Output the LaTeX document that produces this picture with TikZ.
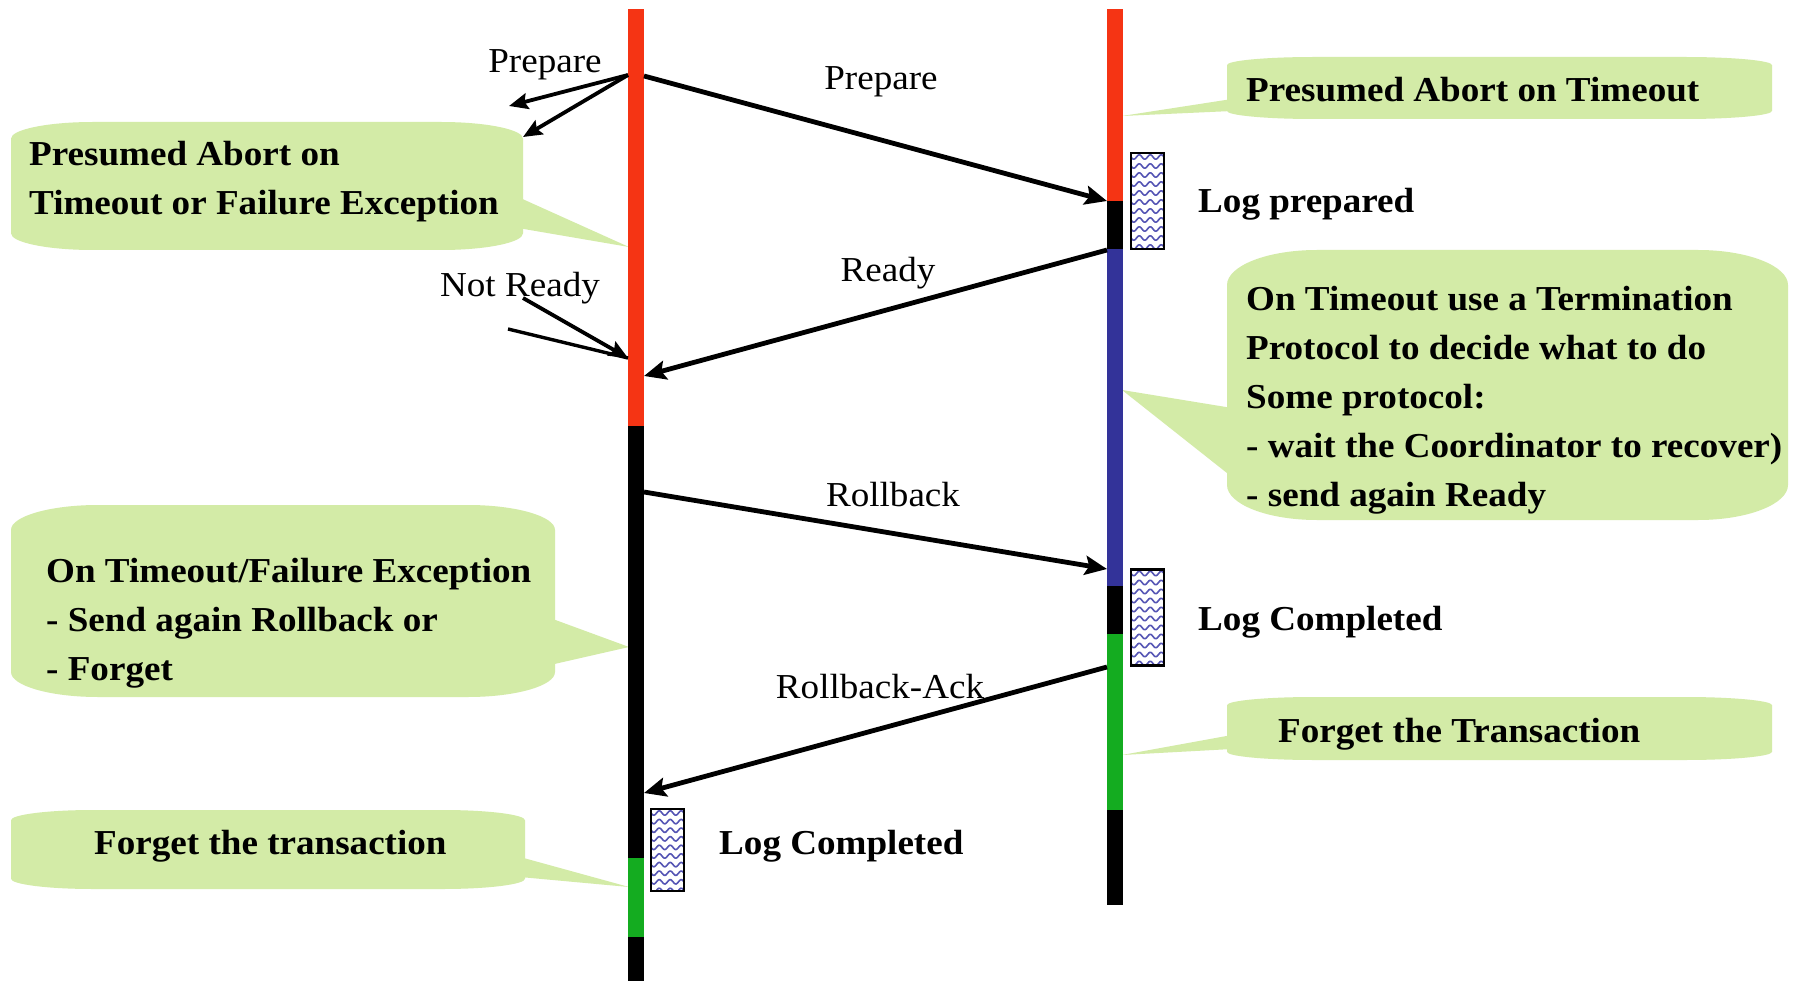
\documentclass[tikz,border=0pt]{standalone}
\usepackage{fontspec}
\setmainfont{Liberation Serif}[FakeStretch=1.06]
\usetikzlibrary{arrows.meta}
\definecolor{cgreen}{RGB}{211,235,167}
\definecolor{bred}{RGB}{245,52,20}
\definecolor{bblue}{RGB}{51,51,153}
\definecolor{bgreen}{RGB}{20,172,32}
\definecolor{wavec}{RGB}{85,85,180}
\newcommand{\calloutbox}[4]{%
  \pgfmathsetmacro\cbrx{0.16*(#3-#1)}%
  \pgfmathsetmacro\cbry{0.13*(#4-#2)}%
  \fill[cgreen] (#1+\cbrx,#2) -- (#3-\cbrx,#2)
    .. controls (#3-0.45*\cbrx,#2) and (#3,#2+0.45*\cbry) .. (#3,#2+\cbry)
    -- (#3,#4-\cbry)
    .. controls (#3,#4-0.45*\cbry) and (#3-0.45*\cbrx,#4) .. (#3-\cbrx,#4)
    -- (#1+\cbrx,#4)
    .. controls (#1+0.45*\cbrx,#4) and (#1,#4-0.45*\cbry) .. (#1,#4-\cbry)
    -- (#1,#2+\cbry)
    .. controls (#1,#2+0.45*\cbry) and (#1+0.45*\cbrx,#2) .. cycle;}
\newcommand{\logwaves}[2]{%
  \begin{scope}
    \clip (#1-16.5,#2-48) rectangle (#1+16.5,#2+48);
    \foreach \k in {0,...,10}
      \draw[wavec, line width=1.6pt] plot[domain=0:33, samples=34, smooth]
        ({#1-16.5+\x}, {#2-44+\k*9+2.2*sin(\x*360/11)});
  \end{scope}}
\begin{document}
\begin{tikzpicture}[x=1pt, y=-1pt,
  lbl/.style={font=\fontsize{35}{40}\selectfont, inner sep=0pt},
  bld/.style={font=\fontsize{35}{49}\selectfont\bfseries, inner sep=0pt, align=left},
  logbox/.style={draw, line width=2.5pt, minimum width=33pt, minimum height=96pt, inner sep=0pt},
  msg/.style={line width=4.8pt, -{Stealth[length=22pt,width=19pt,inset=4pt]}},
  thin msg/.style={line width=3.8pt, -{Stealth[length=19pt,width=16pt,inset=3pt]}},
  tailc/.style={fill=cgreen}]
\useasboundingbox (0,0) rectangle (1801,981);
\fill[white] (0,0) rectangle (1801,981);

% callouts
\calloutbox{11}{122}{523}{250}
\fill[tailc] (518,197) -- (629,247) -- (518,228) -- cycle;
\calloutbox{1227}{57}{1772}{119}
\fill[tailc] (1232,99) -- (1122,116) -- (1232,111) -- cycle;
\calloutbox{1227}{250}{1788}{520}
\fill[tailc] (1232,408) -- (1122,390) -- (1232,477) -- cycle;
\calloutbox{1227}{697}{1772}{760}
\fill[tailc] (1232,735) -- (1122,755) -- (1232,749) -- cycle;
\calloutbox{11}{505}{555}{697}
\fill[tailc] (550,618) -- (629,647) -- (550,665) -- cycle;
\calloutbox{11}{810}{525}{889}
\fill[tailc] (520,857) -- (629,887) -- (520,877) -- cycle;

% left lifeline
\fill[bred] (628,9) rectangle (644,426);
\fill[black] (628,426) rectangle (644,858);
\fill[bgreen] (628,858) rectangle (644,937);
\fill[black] (628,937) rectangle (644,981);
% right lifeline
\fill[bred] (1107,9) rectangle (1123,201);
\fill[black] (1107,201) rectangle (1123,249);
\fill[bblue] (1107,249) rectangle (1123,586);
\fill[black] (1107,586) rectangle (1123,634);
\fill[bgreen] (1107,634) rectangle (1123,810);
\fill[black] (1107,810) rectangle (1123,905);

% log boxes
\node[logbox, fill=white] (log1) at (1147.5,201) {};
\logwaves{1147.5}{201}
\node[logbox] at (log1) {};
\node[logbox, fill=white] (log2) at (1147.5,617.5) {};
\logwaves{1147.5}{617.5}
\node[logbox] at (log2) {};
\node[logbox, fill=white, minimum height=82pt] (log3) at (667.5,850) {};
\begin{scope}
  \clip (651,809) rectangle (684,891);
  \foreach \k in {0,...,9}
    \draw[wavec, line width=1.6pt] plot[domain=0:33, samples=34, smooth]
      ({651+\x}, {813+\k*8.6+2.2*sin(\x*360/11)});
\end{scope}
\node[logbox, minimum height=82pt] at (log3) {};

% message end points
\coordinate (pL) at (628,75);
\coordinate (pR) at (644,76);
\coordinate (s1) at (509,106);
\coordinate (s2) at (523,137);
\coordinate (prepT) at (1107,201);
\coordinate (rdyS) at (1107,250);
\coordinate (rdyT) at (644,376);
\coordinate (nr1) at (523,298);
\coordinate (nr2) at (508,329);
\coordinate (nrT) at (628,358);
\coordinate (rbS) at (644,492);
\coordinate (rbT) at (1107,569);
\coordinate (raS) at (1107,667);
\coordinate (raT) at (644,793);

\draw[thin msg] (pL) -- (s1);
\draw[thin msg] (pL) -- (s2);
\draw[msg] (pR) -- (prepT);
\draw[msg] (rdyS) -- (rdyT);
\draw[line width=3.4pt] (nr2) -- (nrT);
\draw[thin msg] (nr1) -- (nrT);
\draw[msg] (rbS) -- (rbT);
\draw[msg] (raS) -- (raT);

% labels
\node[lbl, anchor=base] (tPrep1) at (545,73) {Prepare};
\node[lbl, anchor=base] (tPrep2) at (881,90) {Prepare};
\node[lbl, anchor=base] (tReady) at (888,282) {Ready};
\node[lbl, anchor=base] (tNot) at (520,297) {Not Ready};
\node[lbl, anchor=base] (tRb) at (893,506) {Rollback};
\node[lbl, anchor=base] (tRbA) at (880,698) {Rollback-Ack};

\node[bld, anchor=base west] (tLog1) at (1198,213) {Log prepared};
\node[bld, anchor=base west] (tLog2) at (1198,630) {Log Completed};
\node[bld, anchor=base west] (tLog3) at (719,854) {Log Completed};

\node[bld, anchor=north west] (cA) at (29,141) {Presumed Abort on\\Timeout or Failure Exception};
\node[bld, anchor=base west] (cB) at (1246,102) {Presumed Abort on Timeout};
\node[bld, anchor=north west] (cC) at (1246,286) {On Timeout use a Termination\\Protocol to decide what to do\\Some protocol:\\- wait the Coordinator to recover)\\- send again Ready};
\node[bld, anchor=base west] (cD) at (1278,742) {Forget the Transaction};
\node[bld, anchor=north west] (cE) at (46,558) {On Timeout/Failure Exception\\- Send again Rollback or\\- Forget};
\node[bld, anchor=base west] (cF) at (94,854) {Forget the transaction};
\end{tikzpicture}
\end{document}
